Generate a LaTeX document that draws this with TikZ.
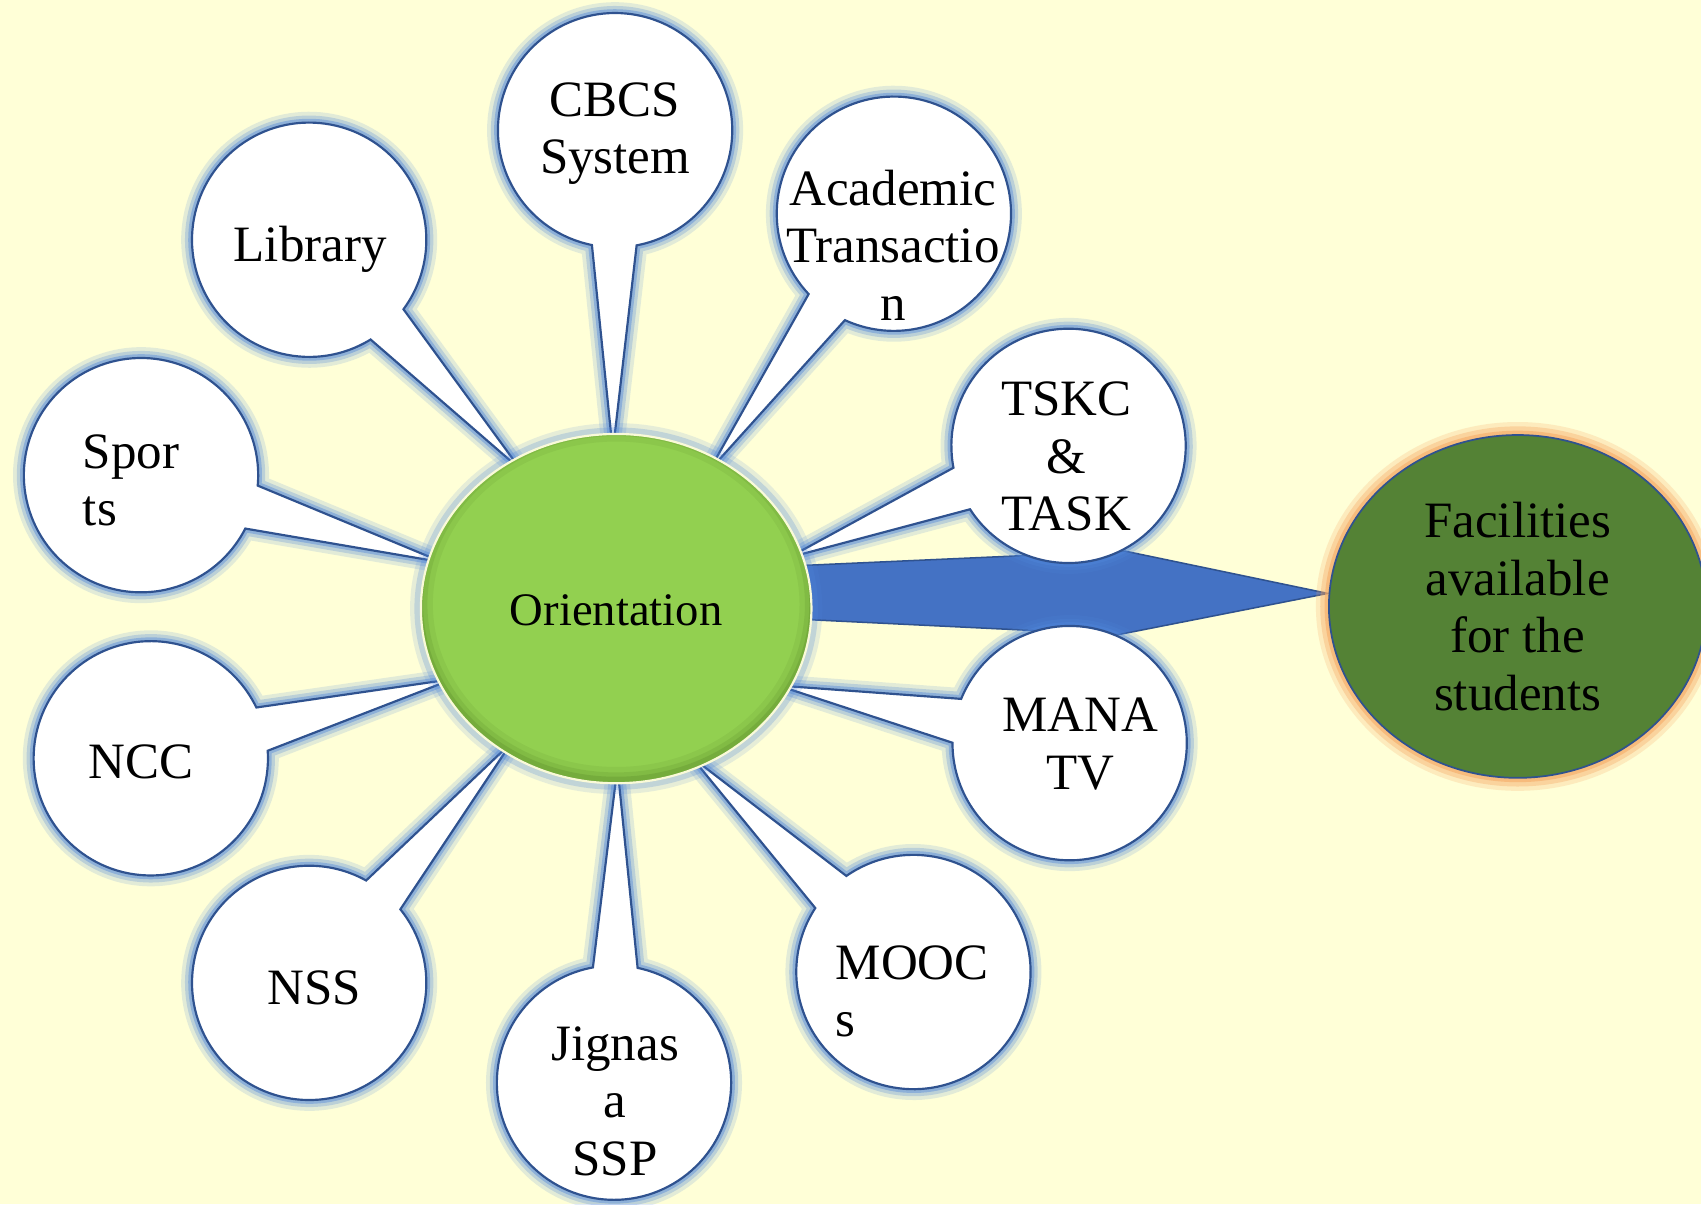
\documentclass[tikz,border=0pt]{standalone}
\usepackage{fontspec}
\setmainfont{Liberation Serif}
\usetikzlibrary{shapes.geometric,calc}
\definecolor{bgc}{HTML}{FFFFD7}
\definecolor{cborder}{HTML}{2F528F}
\definecolor{glowblue}{HTML}{4F86DA}
\definecolor{greenA}{HTML}{92D050}
\definecolor{greenB}{HTML}{4E7A22}
\definecolor{dgreen}{HTML}{548235}
\definecolor{arrowblue}{HTML}{4472C4}
\definecolor{glowor}{HTML}{F6A862}
\definecolor{rimc}{HTML}{FAFAD8}
\newcommand\allcallouts[1]{%
  \foreach \cx/\cy/\tx/\ty in {567/120/565/400, 824/197/663/421, 285/221/469/421, 130/438/393/514, 985/411/742/508, 139/699/402/630, 986/685/733/635, 285/906/461/697, 566/998/569/723, 842/896/649/709}{%
    \pgfmathsetmacro\cphi{atan2(\ty-\cy,\tx-\cx)}%
    \pgfmathsetmacro\aone{\cphi+11}%
    \pgfmathsetmacro\atwo{\cphi+349}%
    \pgfmathsetmacro\ex{\tx+16*cos(\cphi)}%
    \pgfmathsetmacro\ey{\ty+16*sin(\cphi)}%
    \path[#1] ($(\cx,\cy)+(\aone:108)$) arc[start angle=\aone, end angle=\atwo, radius=108] -- (\ex,\ey) -- cycle;
  }%
}
\begin{document}
\begin{tikzpicture}[x=0.5pt,y=-0.5pt,
  glowA/.style={draw=glowblue, line width=10pt, draw opacity=.16, line join=round},
  glowB/.style={draw=glowblue, line width=6.5pt, draw opacity=.26, line join=round},
  glowC/.style={draw=glowblue, line width=3.5pt, draw opacity=.42, line join=round},
  calloutbox/.style={fill=white, draw=cborder, line width=1pt, line join=miter},
  lbl/.style={font=\fontsize{23.5}{26.5}\selectfont, align=center, inner sep=0pt, text=black},
  lbll/.style={font=\fontsize{23.5}{26.5}\selectfont, align=left, inner sep=0pt, anchor=west, text=black},
  bigarrow/.style={fill=arrowblue, draw=cborder, line width=0.7pt, line join=miter},
  orientnode/.style={ellipse, minimum width=180pt, minimum height=161pt, inner sep=0pt,
     fill=greenA,
     preaction={draw=glowblue, line width=10pt, draw opacity=.14},
     preaction={draw=glowblue, line width=6pt, draw opacity=.24},
     font=\fontsize{21.5}{24}\selectfont},
  innershadow/.style={draw=greenB, line width=#1},
  facilnode/.style={ellipse, minimum width=174pt, minimum height=158pt, inner sep=0pt,
     fill=dgreen, draw=cborder, line width=0.8pt, align=center,
     preaction={draw=glowor, line width=12pt, draw opacity=.22},
     preaction={draw=glowor, line width=8pt, draw opacity=.35},
     preaction={draw=glowor, line width=4pt, draw opacity=.55},
     font=\fontsize{23.5}{26.5}\selectfont}
]
\useasboundingbox (0,0) rectangle (1568,1110);
\fill[bgc] (0,0) rectangle (1568,1110);

\coordinate (oc) at (568,561);
\coordinate (fc) at (1399,559);

% big arrow (under callouts)
\draw[bigarrow] ($(oc)+(132,-38)$) -- ($(oc)+(469,-53)$) -- ($(fc)+(-175,-12)$) -- ($(oc)+(463,24)$) -- ($(oc)+(132,8)$) -- cycle;

% callouts
\allcallouts{glowA}
\allcallouts{glowB}
\allcallouts{glowC}
\allcallouts{calloutbox}

% central ellipse with inner shadow
\node[orientnode] (orient) at (oc) {};
\begin{scope}
  \clip (orient.center) ellipse [x radius=180, y radius=161];
  \draw[innershadow=14pt, draw opacity=.10] ($(orient.center)+(0,-4)$) ellipse [x radius=183, y radius=164];
  \draw[innershadow=9pt, draw opacity=.15] ($(orient.center)+(0,-4)$) ellipse [x radius=183, y radius=164];
  \draw[innershadow=5pt, draw opacity=.22] ($(orient.center)+(0,-4)$) ellipse [x radius=183, y radius=164];
\end{scope}
\draw[rimc, line width=1pt] (orient.center) ellipse [x radius=180, y radius=161];
\node[font=\fontsize{21.5}{24}\selectfont, inner sep=0pt] (torient) at ($(orient.center)+(0,2)$) {Orientation};

\node[facilnode] (facil) at (fc) {Facilities\\available\\for the\\students};

% callout texts
\node[lbl] (tcbcs) at (567,123) {CBCS\\System};
\node[lbl] (tacad) at (823,226) {Academic\\Transactio\\n};
\node[lbl] (tlib) at (286,230) {Library};
\node[lbll] (tsport) at (76,443) {Spor\\ts};
\node[lbl] (ttskc) at (983,421) {TSKC\\\&\\TASK};
\node[lbl] (tncc) at (130,702) {NCC};
\node[lbl] (tmana) at (996,686) {MANA\\TV};
\node[lbl] (tnss) at (290,911) {NSS};
\node[lbl] (tjig) at (567,1015) {Jignas\\a\\SSP};
\node[lbll] (tmooc) at (770,914) {MOOC\\s};
\end{tikzpicture}
\end{document}
